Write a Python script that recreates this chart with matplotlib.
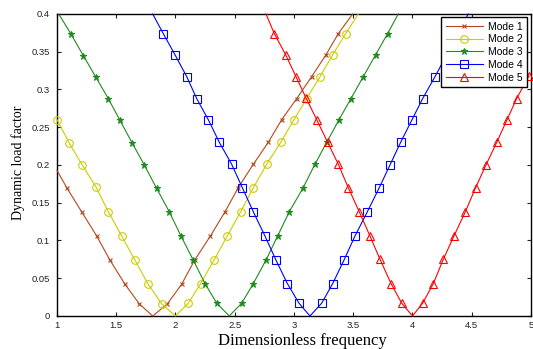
import matplotlib
matplotlib.use('Agg')
import matplotlib.pyplot as plt

# marker points (left branch, dip, right branch)
m1_left_x = [1.082, 1.208, 1.335, 1.447, 1.574, 1.695]
m1_left_y = [0.170, 0.138, 0.106, 0.074, 0.042, 0.016]
m1_right_x = [1.931, 2.052, 2.162, 2.295, 2.418, 2.530, 2.657, 2.783, 2.896, 3.023, 3.149, 3.270, 3.374]
m1_right_y = [0.016, 0.042, 0.074, 0.106, 0.138, 0.170, 0.201, 0.230, 0.260, 0.288, 0.317, 0.346, 0.374]

m2_left_x = [1.000, 1.104, 1.213, 1.329, 1.433, 1.546, 1.658, 1.770, 1.884]
m2_left_y = [0.260, 0.229, 0.200, 0.171, 0.138, 0.106, 0.074, 0.042, 0.016]
m2_right_x = [2.108, 2.213, 2.325, 2.437, 2.550, 2.657, 2.770, 2.888, 3.000, 3.107, 3.219, 3.327, 3.436]
m2_right_y = [0.017, 0.043, 0.074, 0.106, 0.138, 0.170, 0.201, 0.230, 0.260, 0.288, 0.317, 0.346, 0.374]

m3_left_x = [1.116, 1.222, 1.329, 1.433, 1.532, 1.635, 1.737, 1.841, 1.948, 2.046, 2.150, 2.249, 2.348]
m3_left_y = [0.374, 0.345, 0.316, 0.288, 0.259, 0.229, 0.200, 0.169, 0.138, 0.106, 0.074, 0.043, 0.017]
m3_right_x = [2.559, 2.657, 2.764, 2.862, 2.960, 3.078, 3.177, 3.276, 3.380, 3.481, 3.585, 3.689, 3.790]
m3_right_y = [0.017, 0.043, 0.074, 0.106, 0.138, 0.170, 0.201, 0.230, 0.260, 0.288, 0.317, 0.346, 0.374]

m4_left_x = [1.897, 1.996, 2.095, 2.179, 2.277, 2.370, 2.474, 2.564, 2.657, 2.755, 2.848, 2.944, 3.042]
m4_left_y = [0.374, 0.346, 0.317, 0.288, 0.260, 0.230, 0.201, 0.170, 0.138, 0.106, 0.074, 0.043, 0.017]
m4_right_x = [3.234, 3.327, 3.422, 3.515, 3.619, 3.720, 3.810, 3.900, 3.993, 4.086, 4.190, 4.289, 4.385]
m4_right_y = [0.017, 0.043, 0.074, 0.106, 0.138, 0.170, 0.200, 0.230, 0.259, 0.288, 0.317, 0.346, 0.374]

m5_left_x = [2.834, 2.930, 3.017, 3.101, 3.192, 3.284, 3.374, 3.458, 3.551, 3.641, 3.726, 3.819, 3.909]
m5_left_y = [0.374, 0.346, 0.317, 0.289, 0.260, 0.230, 0.201, 0.170, 0.138, 0.106, 0.075, 0.043, 0.017]
m5_right_x = [4.086, 4.176, 4.260, 4.350, 4.446, 4.533, 4.620, 4.711, 4.795, 4.879, 4.983]
m5_right_y = [0.017, 0.043, 0.075, 0.106, 0.138, 0.170, 0.200, 0.230, 0.259, 0.288, 0.318]

# where each curve touches zero
dips = [1.808, 2.0, 2.454, 3.135, 4.0]
# where the lines leave the frame (None = line stops at a marker)
starts = [(1.0, 0.193), None, (1.015, 0.4), (1.808, 0.4), (2.764, 0.4)]
ends = [(3.495, 0.4), (3.543, 0.4), (3.88, 0.4), (4.47, 0.4), None]

labels = ['Mode 1', 'Mode 2', 'Mode 3', 'Mode 4', 'Mode 5']
colors = ['#B5481A', '#CCCC00', '#1E8C1E', '#0000FF', '#FF0000']
markers = ['x', 'o', '*', 's', '^']
msizes = [3.2, 5.5, 5, 5.5, 6]

modes = [(m1_left_x, m1_left_y, m1_right_x, m1_right_y),
         (m2_left_x, m2_left_y, m2_right_x, m2_right_y),
         (m3_left_x, m3_left_y, m3_right_x, m3_right_y),
         (m4_left_x, m4_left_y, m4_right_x, m4_right_y),
         (m5_left_x, m5_left_y, m5_right_x, m5_right_y)]

fig = plt.figure(figsize=(5.33, 3.49), dpi=100)
ax = fig.add_axes([0.1069, 0.0946, 0.8893, 0.8653])

for i, (lx, ly, rx, ry) in enumerate(modes):
    xs, ys, marks = [], [], []
    if starts[i] is not None:
        xs.append(starts[i][0]); ys.append(starts[i][1])
    for x, y in zip(lx, ly):
        marks.append(len(xs)); xs.append(x); ys.append(y)
    xs.append(dips[i]); ys.append(0.0)
    for x, y in zip(rx, ry):
        marks.append(len(xs)); xs.append(x); ys.append(y)
    if ends[i] is not None:
        xs.append(ends[i][0]); ys.append(ends[i][1])
    mfc = colors[i] if markers[i] in ('x', '*') else 'none'
    ax.plot(xs, ys, color=colors[i], lw=0.8, marker=markers[i], ms=msizes[i],
            mfc=mfc, mec=colors[i], mew=0.8, markevery=marks, label=labels[i],
            clip_on=False, zorder=3)

ax.set_xlim(1, 5)
ax.set_ylim(0, 0.4)
ax.set_xticks([1, 1.5, 2, 2.5, 3, 3.5, 4, 4.5, 5])
ax.set_xticklabels(['1', '1.5', '2', '2.5', '3', '3.5', '4', '4.5', '5'])
ax.set_yticks([0, 0.05, 0.1, 0.15, 0.2, 0.25, 0.3, 0.35, 0.4])
ax.set_yticklabels(['0', '0.05', '0.1', '0.15', '0.2', '0.25', '0.3', '0.35', '0.4'])
ax.tick_params(direction='in', top=True, right=True, length=3, width=0.8,
               labelsize=6.8, colors='#222222')
ax.tick_params(axis='y', pad=5)
ax.tick_params(axis='x', pad=3.5)
for lab in ax.get_xticklabels() + ax.get_yticklabels():
    lab.set_family('Liberation Sans')
for s in ax.spines.values():
    s.set_linewidth(1.0)

ax.set_xlabel('Dimensionless frequency', family='Liberation Serif', fontsize=12)
ax.xaxis.set_label_coords(0.517, -0.057)
ax.set_ylabel('Dynamic load factor', family='Liberation Serif', fontsize=10)
ax.yaxis.set_label_coords(-0.068, 0.507)

leg = ax.legend(loc='upper right', bbox_to_anchor=(0.992, 0.99), borderaxespad=0,
                fancybox=False, edgecolor='black', framealpha=1,
                prop={'family': 'Liberation Sans', 'size': 7.5},
                handlelength=3.5, labelspacing=0.26, handletextpad=0.5, borderpad=0.45)
leg.get_frame().set_linewidth(1.0)
leg.set_zorder(5)

fig.savefig('out.png', dpi=100)
